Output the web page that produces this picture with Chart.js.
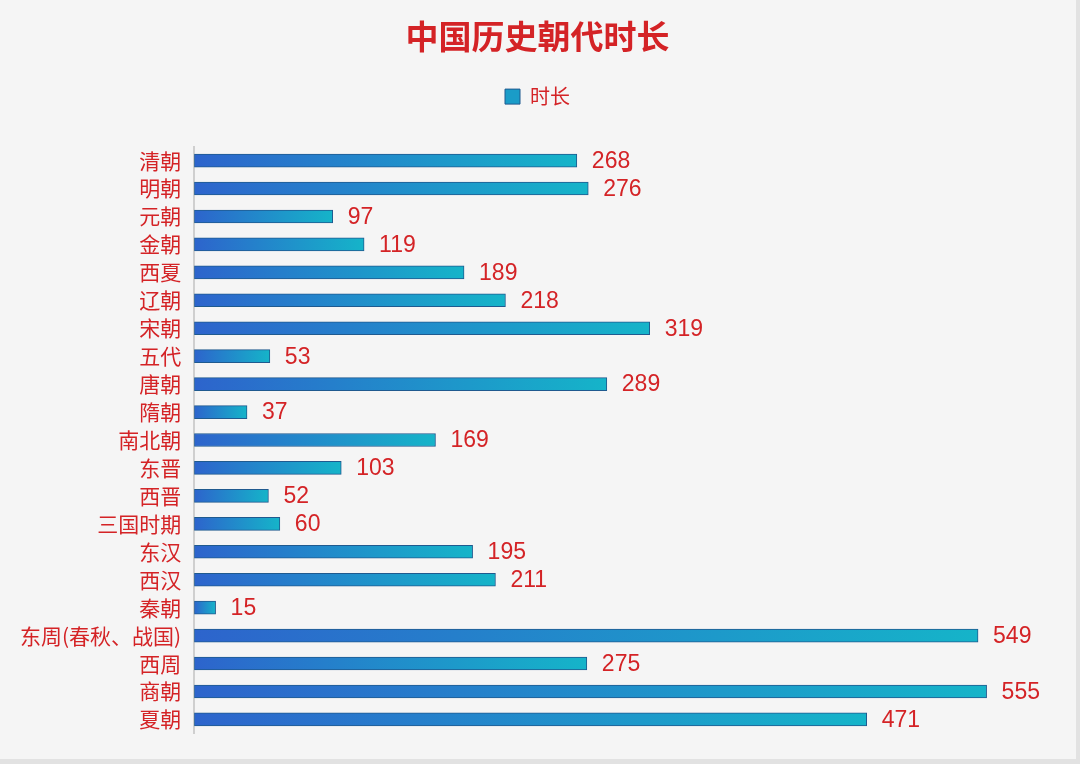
<!DOCTYPE html>
<html>
<head>
<meta charset="utf-8">
<script src="https://cdn.jsdelivr.net/npm/chart.js@4"></script>
<style>
  html, body { margin: 0; padding: 0; background: #f5f5f5; }
  #wrap { position: relative; width: 1080px; height: 764px; box-sizing: border-box; border-right: 4px solid #e2e2e2; border-bottom: 5px solid #e2e2e2; }
</style>
</head>
<body>
<div id="wrap"><canvas id="dynastyChart"></canvas></div>
<script>
const dynasties = ['清朝', '明朝', '元朝', '金朝', '西夏', '辽朝', '宋朝', '五代', '唐朝', '隋朝', '南北朝',
    '东晋', '西晋', '三国时期', '东汉', '西汉', '秦朝', '东周(春秋、战国)', '西周', '商朝', '夏朝'];
const years = [268, 276, 97, 119, 189, 218, 319, 53, 289, 37, 169, 103, 52, 60, 195, 211, 15, 549, 275, 555, 471];

const red = '#d42326';
const cjk = '"Noto Sans CJK SC", "Noto Sans", sans-serif';

// value after each bar
const valueLabels = {
    id: 'valueLabels',
    afterDatasetsDraw(chart) {
        const ctx = chart.ctx;
        const meta = chart.getDatasetMeta(0);
        ctx.save();
        ctx.fillStyle = red;
        ctx.font = '23px "Liberation Sans", Arial, sans-serif';
        ctx.textBaseline = 'middle';
        meta.data.forEach((bar, i) => {
            ctx.fillText(years[i], bar.x + 15, bar.y + 1);
        });
        ctx.restore();
    }
};

// extra room under the legend
const legendGap = {
    id: 'legendGap',
    beforeInit(chart) {
        const fit = chart.legend.fit;
        chart.legend.fit = function () {
            fit.call(this);
            this.height += 30;
        };
    }
};

function barGradient(context) {
    const chart = context.chart;
    const x = chart.scales.x;
    if (!x || context.type !== 'data') return '#1aa6c8';
    const x0 = x.getPixelForValue(0);
    const x1 = x.getPixelForValue(context.parsed.x);
    if (!isFinite(x0) || !isFinite(x1)) return '#1aa6c8';
    const g = chart.ctx.createLinearGradient(x0, 0, Math.max(x1, x0 + 1), 0);
    g.addColorStop(0, '#2d64cc');
    g.addColorStop(1, '#15b4c9');
    return g;
}

new Chart(document.getElementById('dynastyChart'), {
    type: 'bar',
    data: {
        labels: dynasties,
        datasets: [{
            label: '时长',
            data: years,
            backgroundColor: barGradient,
            borderColor: '#1f5a8f',
            borderWidth: 1,
            borderSkipped: false,
            barThickness: 13
        }]
    },
    options: {
        indexAxis: 'y',
        responsive: true,
        maintainAspectRatio: false,
        animation: false,
        layout: { padding: { left: 7, right: 8, top: 10, bottom: 20 } },
        plugins: {
            title: {
                display: true,
                text: '中国历史朝代时长',
                color: red,
                font: { family: cjk, size: 33, weight: 'bold' },
                padding: { top: 7, bottom: 20 }
            },
            legend: {
                labels: {
                    color: red,
                    font: { family: cjk, size: 20 },
                    boxWidth: 15,
                    boxHeight: 15,
                    generateLabels: () => [{ text: '时长', fillStyle: '#1a9cc8', strokeStyle: '#1f5a8f', lineWidth: 1, fontColor: red }]
                },
                padding: 30
            },
            tooltip: { enabled: false }
        },
        scales: {
            x: {
                display: false,
                min: 0,
                max: 612
            },
            y: {
                grid: { display: false, drawTicks: false },
                border: { color: '#cfcfcf', width: 2 },
                ticks: {
                    color: red,
                    font: { family: cjk, size: 21 },
                    padding: 13
                }
            }
        }
    },
    plugins: [valueLabels, legendGap]
});
</script>
</body>
</html>
